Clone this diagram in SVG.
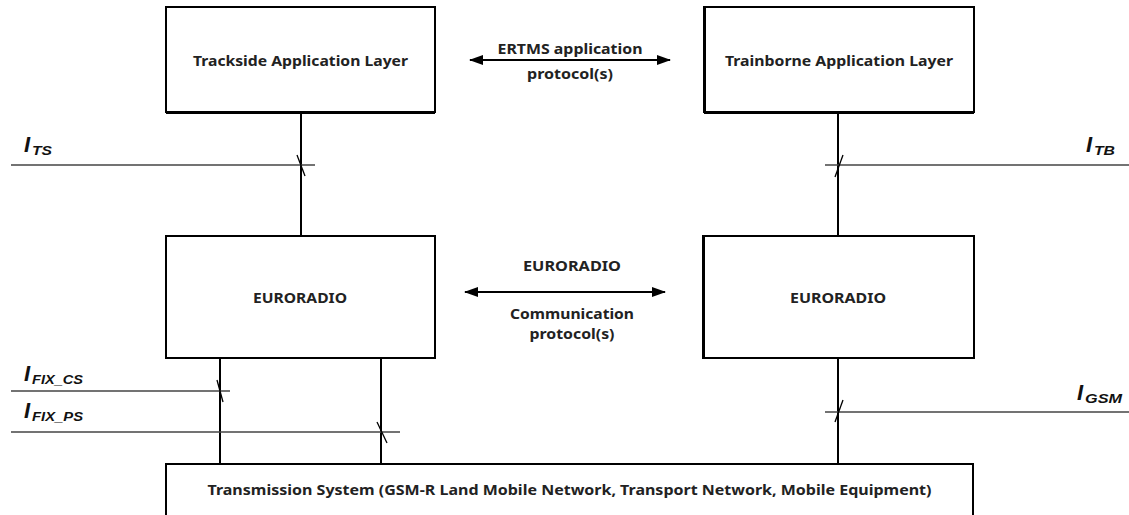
<svg xmlns="http://www.w3.org/2000/svg" width="1129" height="515" viewBox="0 0 1129 515">
<defs>
<marker id="ah" viewBox="0 0 14 10" refX="13" refY="5" markerWidth="14" markerHeight="10" markerUnits="userSpaceOnUse" orient="auto-start-reverse">
<path d="M0,0 L14,5 L0,10 Z" fill="#000"/>
</marker>
<style>
.box{fill:#fff;stroke:#000;stroke-width:2}
.t{font-family:"Noto Sans","Liberation Sans",sans-serif;font-weight:bold;font-size:15px;fill:#222;text-anchor:middle}
.lab{font-family:"Liberation Sans",Arial,sans-serif;font-weight:bold;font-style:italic;fill:#111}
.v{stroke:#000;stroke-width:2;fill:none}
.h{stroke:#444;stroke-width:1.6;fill:none}
.tick{stroke:#000;stroke-width:1.3;fill:none}
.arr{stroke:#000;stroke-width:2;fill:none}
</style>
</defs>
<rect width="1129" height="515" fill="#fff"/>

<g id="connectors">
<line class="v" x1="301" y1="112" x2="301" y2="236"/>
<line class="v" x1="838" y1="112" x2="838" y2="236"/>
<line class="v" x1="220" y1="358" x2="220" y2="464"/>
<line class="v" x1="381" y1="358" x2="381" y2="464"/>
<line class="v" x1="838" y1="358" x2="838" y2="464"/>
<line class="arr" x1="470" y1="60" x2="670" y2="60" marker-start="url(#ah)" marker-end="url(#ah)"/>
<line class="arr" x1="465" y1="292" x2="665" y2="292" marker-start="url(#ah)" marker-end="url(#ah)"/>
<text class="t" x="570" y="54" textLength="145" lengthAdjust="spacingAndGlyphs">ERTMS application</text>
<text class="t" x="570" y="79" textLength="86" lengthAdjust="spacingAndGlyphs">protocol(s)</text>
<text class="t" x="572" y="271" textLength="98" lengthAdjust="spacingAndGlyphs">EURORADIO</text>
<text class="t" x="572" y="319" textLength="124" lengthAdjust="spacingAndGlyphs">Communication</text>
<text class="t" x="572" y="339" textLength="85" lengthAdjust="spacingAndGlyphs">protocol(s)</text>
</g>

<g id="interfaces">
<line class="h" x1="11" y1="165" x2="315" y2="165"/>
<line class="tick" x1="297" y1="155" x2="305" y2="176"/>
<text class="lab" x="24" y="152" font-size="22">I<tspan x="32" y="155" font-size="13" textLength="20" lengthAdjust="spacingAndGlyphs">TS</tspan></text>

<line class="h" x1="825" y1="165" x2="1129" y2="165"/>
<line class="tick" x1="835" y1="177" x2="843" y2="155"/>
<text class="lab" x="1086" y="152" font-size="22">I<tspan x="1094" y="155" font-size="13" textLength="21" lengthAdjust="spacingAndGlyphs">TB</tspan></text>

<line class="h" x1="11" y1="391" x2="230" y2="391"/>
<line class="tick" x1="217" y1="380" x2="223" y2="402"/>
<text class="lab" x="24" y="381" font-size="22">I<tspan x="32" y="384" font-size="13" textLength="51" lengthAdjust="spacingAndGlyphs">FIX_CS</tspan></text>

<line class="h" x1="11" y1="432" x2="400" y2="432"/>
<line class="tick" x1="377" y1="422" x2="387" y2="443"/>
<text class="lab" x="24" y="418" font-size="22">I<tspan x="32" y="421" font-size="13" textLength="51" lengthAdjust="spacingAndGlyphs">FIX_PS</tspan></text>

<line class="h" x1="825" y1="412" x2="1129" y2="412"/>
<line class="tick" x1="835" y1="422" x2="843" y2="400"/>
<text class="lab" x="1077" y="400" font-size="22">I<tspan x="1085" y="403" font-size="13" textLength="37" lengthAdjust="spacingAndGlyphs">GSM</tspan></text>
</g>

<g id="trackside">
<rect class="box" x="166" y="7" width="269" height="105"/>
<line x1="166" y1="112.5" x2="435" y2="112.5" stroke="#000" stroke-width="3"/>
<text class="t" x="300.5" y="66" textLength="215" lengthAdjust="spacingAndGlyphs">Trackside Application Layer</text>
</g>

<g id="trainborne">
<rect class="box" x="704" y="7" width="270" height="105"/>
<line x1="704" y1="112.5" x2="974" y2="112.5" stroke="#000" stroke-width="3"/>
<line x1="704.5" y1="7" x2="704.5" y2="113" stroke="#000" stroke-width="3"/>
<text class="t" x="839" y="66" textLength="228" lengthAdjust="spacingAndGlyphs">Trainborne Application Layer</text>
</g>

<g id="euroradio-left">
<rect class="box" x="166" y="236" width="269" height="122"/>
<text class="t" x="300" y="303" textLength="94" lengthAdjust="spacingAndGlyphs">EURORADIO</text>
</g>

<g id="euroradio-right">
<rect class="box" x="703" y="236" width="271" height="122"/>
<line x1="703.5" y1="236" x2="703.5" y2="358" stroke="#000" stroke-width="3"/>
<text class="t" x="838" y="303" textLength="96" lengthAdjust="spacingAndGlyphs">EURORADIO</text>
</g>

<g id="transmission">
<rect class="box" x="166" y="464" width="807" height="60"/>
<text class="t" x="569.5" y="495" textLength="724" lengthAdjust="spacingAndGlyphs">Transmission System (GSM-R Land Mobile Network, Transport Network, Mobile Equipment)</text>
</g>
</svg>
